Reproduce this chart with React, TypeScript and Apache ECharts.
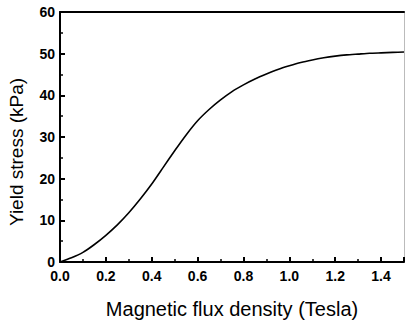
import React, { useEffect, useRef } from "react";
import * as echarts from "echarts";

const fluxDensity = [0, 0.05, 0.1, 0.15, 0.2, 0.25, 0.3, 0.35, 0.4, 0.45, 0.5, 0.55, 0.6, 0.65, 0.7, 0.75, 0.8, 0.85, 0.9, 0.95, 1.0, 1.05, 1.1, 1.15, 1.2, 1.25, 1.3, 1.35, 1.4, 1.45, 1.5];
const yieldStress = [0, 1.0, 2.3, 4.2, 6.4, 8.9, 11.8, 15.1, 18.7, 22.7, 26.7, 30.5, 33.9, 36.6, 38.9, 40.9, 42.5, 43.9, 45.1, 46.2, 47.1, 47.9, 48.5, 49.0, 49.4, 49.7, 49.9, 50.1, 50.2, 50.3, 50.4];
const xTitle = "Magnetic flux density (Tesla)";
const yTitle = "Yield stress (kPa)";

export default function App() {
  const ref = useRef<HTMLDivElement>(null);
  useEffect(() => {
    if (!ref.current) return;
    const chart = echarts.init(ref.current, null, { renderer: "svg" });
    const font = "Liberation Sans, Arial, sans-serif";
    const axisLine = { show: true, onZero: false, lineStyle: { color: "#000", width: 2 } };
    chart.setOption({
      animation: false,
      backgroundColor: "#fff",
      grid: { left: 60, right: 1, top: 12, bottom: 57, containLabel: false },
      graphic: [
        {
          type: "text",
          x: 16,
          y: 152,
          rotation: Math.PI / 2,
          style: {
            text: yTitle,
            fontSize: 19,
            fontFamily: font,
            fill: "#000",
            textAlign: "center",
            textVerticalAlign: "middle",
          },
        },
      ],
      xAxis: [
        {
          type: "value",
          min: 0,
          max: 1.5,
          interval: 0.2,
          name: xTitle,
          nameLocation: "middle",
          nameGap: 37,
          nameTextStyle: { fontSize: 20, color: "#000", fontFamily: font },
          axisLine,
          axisTick: { show: true, inside: true, length: 5, lineStyle: { color: "#000", width: 2 } },
          minorTick: { show: true, splitNumber: 2, length: 3, lineStyle: { color: "#000", width: 1.5 } },
          splitLine: { show: false },
          axisLabel: {
            fontSize: 14,
            fontWeight: "bold",
            color: "#000",
            fontFamily: font,
            margin: 7,
            formatter: (v: number) => (v > 1.45 ? "" : v.toFixed(1)),
          },
        },
        {
          type: "value",
          position: "top",
          min: 0,
          max: 1.5,
          axisLine,
          axisTick: { show: false },
          axisLabel: { show: false },
          splitLine: { show: false },
        },
      ],
      yAxis: [
        {
          type: "value",
          min: 0,
          max: 60,
          interval: 10,
          axisLine,
          axisTick: { show: true, inside: true, length: 5, lineStyle: { color: "#000", width: 2 } },
          minorTick: { show: true, splitNumber: 2, length: 3, lineStyle: { color: "#000", width: 1.5 } },
          splitLine: { show: false },
          axisLabel: { fontSize: 14, fontWeight: "bold", color: "#000", fontFamily: font, margin: 5 },
        },
        {
          type: "value",
          position: "right",
          min: 0,
          max: 60,
          axisLine: { show: true, onZero: false, lineStyle: { color: "#bbb", width: 1 } },
          axisTick: { show: false },
          axisLabel: { show: false },
          splitLine: { show: false },
        },
      ],
      series: [
        {
          type: "line",
          data: fluxDensity.map((x, i) => [x, yieldStress[i]]),
          smooth: 0.2,
          showSymbol: false,
          lineStyle: { color: "#000", width: 1.6 },
        },
      ],
    });
    return () => chart.dispose();
  }, []);
  return <div ref={ref} style={{ width: 407, height: 324, position: "absolute", left: 0, top: 0 }} />;
}
